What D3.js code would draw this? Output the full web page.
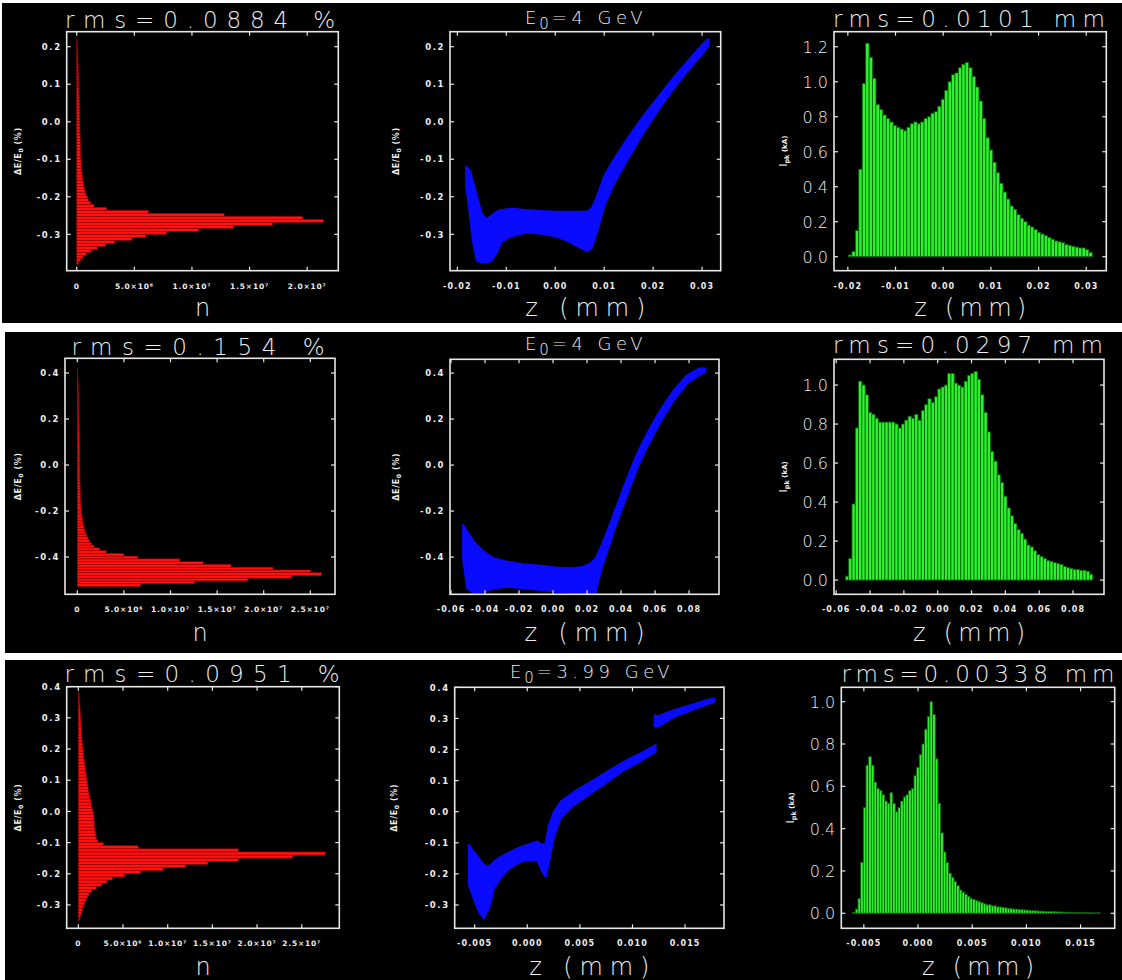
<!DOCTYPE html>
<html>
<head>
<meta charset="utf-8">
<script src="https://cdn.jsdelivr.net/npm/d3@7/dist/d3.min.js"></script>
<style>
  body { margin: 0; background: #fff; }
  svg { display: block; }
  text { font-family: "DejaVu Sans", sans-serif; fill: #ededed; }
</style>
</head>
<body>
<svg id="fig" width="1122" height="980"></svg>
<script>
// ---------- data ----------
// energy spread histograms (left column): bin start, bin width (%), counts in units of 1e6
const spread1Start = -0.376, spread1Step = 0.008;
const spread1Counts = [0.15,0.35,0.55,0.85,1.25,1.8,2.5,3.3,4.8,6.0,
  7.8,10.6,13.6,17.0,21.4,19.6,12.8,6.2,2.6,1.5,
  1.2,1.0,0.9,0.8,0.72,0.66,0.6,0.56,0.52,0.49,
  0.46,0.44,0.42,0.4,0.38,0.36,0.35,0.34,0.33,0.32,
  0.31,0.30,0.29,0.28,0.27,0.27,0.26,0.25,0.24,0.24,
  0.23,0.22,0.22,0.21,0.20,0.20,0.19,0.18,0.18,0.17,
  0.16,0.16,0.15,0.14,0.14,0.13,0.12,0.11,0.10,0.09,
  0.08,0.07,0.06,0.05,0.04];

const spread2Start = -0.522, spread2Step = 0.012;
const spread2Counts = [6.8,12.6,18.3,23.0,26.2,25.0,21.0,16.5,13.5,11.0,
  6.5,5.0,3.1,2.4,1.8,1.5,1.3,1.15,1.0,0.9,
  0.8,0.72,0.65,0.6,0.55,0.5,0.47,0.44,0.41,0.39,
  0.37,0.35,0.34,0.33,0.32,0.31,0.30,0.29,0.28,0.28,
  0.27,0.27,0.26,0.26,0.25,0.25,0.24,0.24,0.23,0.23,
  0.22,0.22,0.21,0.21,0.2,0.2,0.19,0.19,0.18,0.18,
  0.17,0.17,0.16,0.16,0.15,0.15,0.14,0.14,0.13,0.12,
  0.12,0.11,0.10,0.09,0.08,0.07,0.06,0.05,0.04];

const spread3Start = -0.345, spread3Step = 0.01;
const spread3Counts = [0.15,0.25,0.35,0.45,0.55,0.7,0.85,1.0,1.2,1.5,
  2.0,2.6,3.2,3.8,5.2,7.0,9.5,12.0,14.5,17.9,
  24.0,27.6,17.9,6.7,2.8,2.2,2.0,1.95,1.9,1.85,
  1.8,1.8,1.75,1.75,1.7,1.6,1.5,1.45,1.4,1.3,
  1.2,1.15,1.1,1.05,1.0,0.95,0.9,0.85,0.8,0.75,
  0.7,0.65,0.6,0.58,0.55,0.5,0.45,0.42,0.4,0.37,
  0.35,0.33,0.31,0.3,0.28,0.25,0.22,0.2,0.18,0.15,
  0.12,0.1,0.08];

// longitudinal phase space bands (middle column): z (mm), upper and lower dE/E0 (%)
const phase1Z  = [-0.0182,-0.0175,-0.0168,-0.0160,-0.0150,-0.0140,-0.0130,-0.0120,-0.0110,-0.0090,-0.0060,-0.0030,0.0000,0.0030,0.0050,0.0065,0.0075,0.0085,0.0100,0.0120,0.0150,0.0180,0.0210,0.0240,0.0270,0.0300,0.0312];
const phase1Hi = [-0.12,-0.13,-0.16,-0.20,-0.245,-0.26,-0.25,-0.24,-0.235,-0.232,-0.235,-0.238,-0.24,-0.24,-0.24,-0.24,-0.23,-0.20,-0.145,-0.10,-0.04,0.015,0.065,0.115,0.16,0.205,0.22];
const phase1Lo = [-0.17,-0.24,-0.32,-0.37,-0.375,-0.375,-0.37,-0.35,-0.32,-0.305,-0.295,-0.298,-0.305,-0.32,-0.335,-0.345,-0.335,-0.295,-0.225,-0.165,-0.095,-0.03,0.03,0.085,0.135,0.18,0.20];

const phase2Z  = [-0.0529,-0.0505,-0.0466,-0.0407,-0.0348,-0.027,-0.0172,-0.0074,0.0024,0.0122,0.0181,0.0221,0.025,0.0279,0.0318,0.0377,0.0436,0.0495,0.0554,0.0632,0.0711,0.0789,0.0858,0.0897];
const phase2Hi = [-0.261,-0.29,-0.333,-0.377,-0.406,-0.42,-0.432,-0.438,-0.446,-0.449,-0.442,-0.428,-0.406,-0.362,-0.29,-0.174,-0.058,0.051,0.138,0.239,0.326,0.391,0.42,0.42];
const phase2Lo = [-0.406,-0.536,-0.555,-0.551,-0.536,-0.529,-0.536,-0.543,-0.551,-0.555,-0.555,-0.555,-0.555,-0.464,-0.377,-0.246,-0.13,-0.014,0.08,0.188,0.283,0.355,0.391,0.406];

const phase3Z  = [-0.00555,-0.00508,-0.0046,-0.00413,-0.00365,-0.00317,-0.00254,-0.0019,-0.00095,0.0,0.00095,0.00143,0.00175,0.00206,0.00254,0.00317,0.00444,0.00603,0.00762,0.0092,0.0108,0.0122];
const phase3Hi = [-0.107,-0.129,-0.15,-0.171,-0.177,-0.161,-0.145,-0.134,-0.118,-0.107,-0.096,-0.107,-0.102,-0.043,0.0,0.032,0.064,0.096,0.129,0.161,0.188,0.214];
const phase3Lo = [-0.236,-0.279,-0.322,-0.343,-0.311,-0.247,-0.214,-0.188,-0.166,-0.155,-0.155,-0.193,-0.209,-0.161,-0.08,-0.021,0.021,0.059,0.096,0.134,0.163,0.193];
// head of the bunch, after the jump
const phase3bZ  = [0.0121,0.0124,0.0140,0.0156,0.0171,0.0178];
const phase3bHi = [0.31,0.306,0.327,0.343,0.359,0.364];
const phase3bLo = [0.275,0.273,0.306,0.327,0.345,0.354];

// current profiles (right column): bin start, bin width (mm), current (kA)
const current1Start = -0.0195, current1Step = 0.00072;
const current1 = [0.01,0.03,0.15,0.50,0.99,1.22,1.14,1.02,0.87,0.84,
  0.81,0.79,0.77,0.75,0.74,0.73,0.72,0.74,0.76,0.77,
  0.76,0.77,0.79,0.80,0.82,0.83,0.86,0.90,0.95,1.00,
  1.04,1.05,1.08,1.10,1.11,1.08,1.03,0.97,0.89,0.79,
  0.68,0.61,0.54,0.48,0.42,0.37,0.33,0.29,0.27,0.24,
  0.22,0.20,0.18,0.17,0.155,0.14,0.13,0.12,0.11,0.10,
  0.09,0.085,0.08,0.07,0.065,0.06,0.055,0.05,0.05,0.04,0.025];

const current2Start = -0.0536, current2Step = 0.00195;
const current2 = [0.02,0.11,0.39,0.78,1.02,1.0,0.95,0.86,0.85,0.83,
  0.81,0.81,0.81,0.81,0.81,0.80,0.78,0.80,0.82,0.84,
  0.83,0.85,0.82,0.87,0.90,0.93,0.91,0.94,0.98,0.99,
  1.00,1.06,1.06,1.01,1.00,0.99,1.02,1.05,1.06,1.07,
  1.03,0.95,0.86,0.76,0.66,0.61,0.54,0.50,0.43,0.37,
  0.33,0.29,0.26,0.24,0.21,0.18,0.17,0.15,0.13,0.12,
  0.11,0.10,0.095,0.09,0.085,0.08,0.07,0.065,0.06,0.055,
  0.055,0.05,0.05,0.045,0.03];

const current3Start = -0.00591, current3Step = 0.000246;
const current3 = [0.005,0.02,0.07,0.24,0.5,0.7,0.74,0.70,0.62,0.59,
  0.58,0.56,0.53,0.52,0.57,0.52,0.48,0.50,0.53,0.55,
  0.56,0.58,0.59,0.65,0.69,0.75,0.80,0.87,0.93,1.00,
  0.94,0.73,0.52,0.38,0.29,0.24,0.19,0.17,0.15,0.13,
  0.11,0.10,0.09,0.08,0.07,0.065,0.06,0.055,0.05,0.045,
  0.04,0.04,0.035,0.035,0.03,0.03,0.028,0.026,0.024,0.022,
  0.02,0.02,0.018,0.017,0.016,0.015,0.014,0.013,0.012,0.011,
  0.01,0.01,0.009,0.008,0.008,0.007,0.007,0.006,0.006,0.005,
  0.005,0.005,0.004,0.004,0.004,0.003,0.003,0.003,0.003,0.002,
  0.002,0.002,0.002];

// titles
const spreadTitles  = ["rms=0.0884  %", "rms=0.154  %", "rms=0.0951  %"];
const energyValues  = ["4", "4", "3.99"];
const lengthTitles  = ["rms=0.0101  mm", "rms=0.0297  mm", "rms=0.00338  mm"];

// tick values and labels
const spreadTicks1 = [-0.3,-0.2,-0.1,0.0,0.1,0.2];
const spreadLabels1 = ["-0.3","-0.2","-0.1","0.0","0.1","0.2"];
const spreadTicks2 = [-0.4,-0.2,0.0,0.2,0.4];
const spreadLabels2 = ["-0.4","-0.2","0.0","0.2","0.4"];
const spreadTicks3 = [-0.3,-0.2,-0.1,0.0,0.1,0.2,0.3,0.4];
const spreadLabels3 = ["-0.3","-0.2","-0.1","0.0","0.1","0.2","0.3","0.4"];
const countTicks1 = [0,5,10,15,20];
const countLabels1 = ["0","5.0\u00d710\u2076","1.0\u00d710\u2077","1.5\u00d710\u2077","2.0\u00d710\u2077"];
const countTicks2 = [0,5,10,15,20,25];
const countLabels2 = ["0","5.0\u00d710\u2076","1.0\u00d710\u2077","1.5\u00d710\u2077","2.0\u00d710\u2077","2.5\u00d710\u2077"];
const zTicks1 = [-0.02,-0.01,0.0,0.01,0.02,0.03];
const zLabels1 = ["-0.02","-0.01","0.00","0.01","0.02","0.03"];
const zTicks2 = [-0.06,-0.04,-0.02,0.0,0.02,0.04,0.06,0.08];
const zLabels2 = ["-0.06","-0.04","-0.02","0.00","0.02","0.04","0.06","0.08"];
const zTicks3 = [-0.005,0.0,0.005,0.010,0.015];
const zLabels3 = ["-0.005","0.000","0.005","0.010","0.015"];
const currentTicks1 = [0.0,0.2,0.4,0.6,0.8,1.0,1.2];
const currentLabels1 = ["0.0","0.2","0.4","0.6","0.8","1.0","1.2"];
const currentTicks2 = [0.0,0.2,0.4,0.6,0.8,1.0];
const currentLabels2 = ["0.0","0.2","0.4","0.6","0.8","1.0"];

// ---------- layout ----------
const svg = d3.select("#fig");
svg.append("rect").attr("width", 1122).attr("height", 980).attr("fill", "#fff");

const rowBands = [[2, 3, 1122, 323], [5, 332, 1122, 653], [5, 660, 1122, 980]];
rowBands.forEach(r => svg.append("rect")
  .attr("x", r[0]).attr("y", r[1]).attr("width", r[2] - r[0]).attr("height", r[3] - r[1])
  .attr("fill", "#000"));

const zip = (z, hi, lo) => z.map((d, i) => ({ z: d, hi: hi[i], lo: lo[i] }));

const panels = [
  // row 1
  { kind: "spread", box: [66.7, 338.3, 31.7, 270.7], xDomain: [-0.87, 22.7], yDomain: [-0.397, 0.24],
    start: spread1Start, step: spread1Step, values: spread1Counts,
    xTicks: countTicks1, xLabels: countLabels1, yTicks: spreadTicks1, yLabels: spreadLabels1,
    title: spreadTitles[0], titleX: 200, titleY: 28, titleLen: 270,
    xTitle: "n", xTitleY: 316, yTitleX: 18 },
  { kind: "phase", box: [450, 720.7, 31.7, 270.7], xDomain: [-0.0215, 0.0338], yDomain: [-0.397, 0.24],
    bands: [zip(phase1Z, phase1Hi, phase1Lo)],
    xTicks: zTicks1, xLabels: zLabels1, yTicks: spreadTicks1, yLabels: spreadLabels1,
    energy: energyValues[0], titleX: 586, titleY: 23.5,
    xTitle: "z  (mm)", xTitleY: 316, xTitleLen: 120, yTitleX: 396 },
  { kind: "current", box: [834, 1106.3, 31.7, 270.7], xDomain: [-0.0229, 0.0342], yDomain: [-0.08, 1.286],
    start: current1Start, step: current1Step, values: current1,
    xTicks: zTicks1, xLabels: zLabels1, yTicks: currentTicks1, yLabels: currentLabels1,
    title: lengthTitles[0], titleX: 969, titleY: 27, titleLen: 272,
    xTitle: "z  (mm)", xTitleY: 316, xTitleLen: 112, yTitleX: 783 },
  // row 2
  { kind: "spread", box: [65, 335, 358.3, 594.3], xDomain: [-1.32, 27.65], yDomain: [-0.562, 0.464],
    start: spread2Start, step: spread2Step, values: spread2Counts,
    xTicks: countTicks2, xLabels: countLabels2, yTicks: spreadTicks2, yLabels: spreadLabels2,
    title: spreadTitles[1], titleX: 198, titleY: 355, titleLen: 253,
    xTitle: "n", xTitleY: 641, yTitleX: 18 },
  { kind: "phase", box: [450, 719, 359.3, 594.3], xDomain: [-0.0606, 0.0976], yDomain: [-0.562, 0.46],
    bands: [zip(phase2Z, phase2Hi, phase2Lo)],
    xTicks: zTicks2, xLabels: zLabels2, yTicks: spreadTicks2, yLabels: spreadLabels2,
    energy: energyValues[1], titleX: 586, titleY: 350,
    xTitle: "z  (mm)", xTitleY: 641, xTitleLen: 120, yTitleX: 396 },
  { kind: "current", box: [834, 1104, 359.3, 594.3], xDomain: [-0.0613, 0.0983], yDomain: [-0.073, 1.132],
    start: current2Start, step: current2Step, values: current2,
    xTicks: zTicks2, xLabels: zLabels2, yTicks: currentTicks2, yLabels: currentLabels2,
    title: lengthTitles[1], titleX: 968, titleY: 353, titleLen: 270,
    xTitle: "z  (mm)", xTitleY: 641, xTitleLen: 112, yTitleX: 783 },
  // row 3
  { kind: "spread", box: [66.7, 339.3, 686.7, 928.3], xDomain: [-1.3, 29.2], yDomain: [-0.375, 0.4],
    start: spread3Start, step: spread3Step, values: spread3Counts,
    xTicks: countTicks2, xLabels: countLabels2, yTicks: spreadTicks3, yLabels: spreadLabels3,
    title: spreadTitles[2], titleX: 202, titleY: 682, titleLen: 275,
    xTitle: "n", xTitleY: 975, yTitleX: 18 },
  { kind: "phase", box: [454.7, 724, 687.3, 928.3], xDomain: [-0.0069, 0.0187], yDomain: [-0.375, 0.4],
    bands: [zip(phase3Z, phase3Hi, phase3Lo), zip(phase3bZ, phase3bHi, phase3bLo)],
    xTicks: zTicks3, xLabels: zLabels3, yTicks: spreadTicks3, yLabels: spreadLabels3,
    energy: energyValues[2], titleX: 592, titleY: 678,
    xTitle: "z  (mm)", xTitleY: 975, xTitleLen: 120, yTitleX: 394 },
  { kind: "current", box: [841.3, 1114.7, 687.3, 928.3], xDomain: [-0.00708, 0.01815], yDomain: [-0.071, 1.068],
    start: current3Start, step: current3Step, values: current3,
    xTicks: zTicks3, xLabels: zLabels3, yTicks: currentTicks2, yLabels: currentLabels2,
    title: lengthTitles[2], titleX: 978, titleY: 682, titleLen: 273,
    xTitle: "z  (mm)", xTitleY: 975, xTitleLen: 112, yTitleX: 790 }
];

const defs = svg.append("defs");

panels.forEach((p, k) => {
  const [x0, x1, y0, y1] = p.box;
  const x = d3.scaleLinear().domain(p.xDomain).range([x0, x1]);
  const y = d3.scaleLinear().domain(p.yDomain).range([y1, y0]);
  const g = svg.append("g");

  defs.append("clipPath").attr("id", "clip" + k)
    .append("rect").attr("x", x0).attr("y", y0).attr("width", x1 - x0).attr("height", y1 - y0);
  const plot = g.append("g").attr("clip-path", `url(#clip${k})`);

  if (p.kind === "spread") {
    // horizontal histogram: bin centre = start + i*step
    plot.selectAll("rect").data(p.values).join("rect")
      .attr("x", x(0))
      .attr("width", d => x(d) - x(0))
      .attr("y", (d, i) => y(p.start + i * p.step + p.step / 2))
      .attr("height", (d, i) => y(p.start + i * p.step - p.step / 2) - y(p.start + i * p.step + p.step / 2))
      .attr("fill", "#ff1111")
      .attr("stroke", "#8a0000")
      .attr("stroke-width", 0.55);
  } else if (p.kind === "phase") {
    const area = d3.area().x(d => x(d.z)).y0(d => y(d.lo)).y1(d => y(d.hi));
    p.bands.forEach(b => plot.append("path")
      .attr("d", area(b))
      .attr("fill", "#0a0aff")
      .attr("stroke", "#0a0aff")
      .attr("stroke-width", 2)
      .attr("stroke-linejoin", "round"));
  } else {
    plot.selectAll("rect").data(p.values).join("rect")
      .attr("x", (d, i) => x(p.start + i * p.step - p.step / 2))
      .attr("width", x(p.start + p.step) - x(p.start))
      .attr("y", d => y(d))
      .attr("height", d => y(0) - y(d))
      .attr("fill", "#2cf22c")
      .attr("stroke", "#0b600b")
      .attr("stroke-width", 0.8);
  }

  // frame
  g.append("rect").attr("x", x0).attr("y", y0).attr("width", x1 - x0).attr("height", y1 - y0)
    .attr("fill", "none").attr("stroke", "#e8e8e8").attr("stroke-width", 1.6);

  // inward ticks on all four sides
  const tk = g.append("g").attr("stroke", "#e8e8e8").attr("stroke-width", 1.2);
  p.xTicks.forEach(t => {
    tk.append("line").attr("x1", x(t)).attr("x2", x(t)).attr("y1", y1).attr("y2", y1 - 4);
    tk.append("line").attr("x1", x(t)).attr("x2", x(t)).attr("y1", y0).attr("y2", y0 + 4);
  });
  p.yTicks.forEach(t => {
    tk.append("line").attr("x1", x0).attr("x2", x0 + 4).attr("y1", y(t)).attr("y2", y(t));
    tk.append("line").attr("x1", x1).attr("x2", x1 - 4).attr("y1", y(t)).attr("y2", y(t));
  });

  // x tick labels
  const smallX = p.kind === "spread";
  g.selectAll(".xl").data(p.xTicks).join("text")
    .attr("x", d => x(d)).attr("y", y1 + 18)
    .attr("text-anchor", "middle")
    .attr("font-size", smallX ? 7.5 : 8).attr("font-weight", "bold")
    .attr("letter-spacing", smallX ? 0.8 : 1.1)
    .text((d, i) => p.xLabels[i]);

  // y tick labels
  if (p.kind === "current") {
    g.selectAll(".yl").data(p.yTicks).join("text")
      .attr("x", x0 - 6).attr("y", d => y(d) + 6)
      .attr("text-anchor", "end")
      .attr("font-size", 16).attr("font-weight", 200)
      .text((d, i) => p.yLabels[i]);
  } else {
    g.selectAll(".yl").data(p.yTicks).join("text")
      .attr("x", x0 - 5).attr("y", d => y(d) + 3.2)
      .attr("text-anchor", "end")
      .attr("font-size", 8.5).attr("font-weight", "bold").attr("letter-spacing", 1.6)
      .text((d, i) => p.yLabels[i]);
  }

  // title
  if (p.kind === "phase") {
    const t = g.append("text").attr("x", p.titleX).attr("y", p.titleY)
      .attr("text-anchor", "middle")
      .attr("font-size", 18).attr("font-weight", 200);
    t.append("tspan").attr("letter-spacing", 3).text("E");
    t.append("tspan").attr("font-size", 15).attr("dy", 5).attr("letter-spacing", 3).text("0");
    t.append("tspan").attr("dy", -5).attr("letter-spacing", 4.5).text("=" + p.energy + "  GeV");
  } else {
    g.append("text").attr("x", p.titleX).attr("y", p.titleY)
      .attr("text-anchor", "middle")
      .attr("font-size", 23).attr("font-weight", 200)
      .attr("textLength", p.titleLen).attr("lengthAdjust", "spacing")
      .text(p.title);
  }

  // x axis title
  const xt = g.append("text").attr("x", (x0 + x1) / 2).attr("y", p.xTitleY)
    .attr("text-anchor", "middle").attr("font-size", 24).attr("font-weight", 200)
    .text(p.xTitle);
  if (p.xTitleLen) xt.attr("textLength", p.xTitleLen).attr("lengthAdjust", "spacing");

  // y axis title
  const cy = (y0 + y1) / 2;
  if (p.kind === "current") {
    const yt = g.append("text")
      .attr("transform", `translate(${p.yTitleX + 4},${cy}) rotate(-90)`)
      .attr("text-anchor", "middle");
    yt.append("tspan").attr("font-size", 11).text("I");
    yt.append("tspan").attr("font-size", 6.5).attr("font-weight", "bold").attr("dy", 2).text("pk");
    yt.append("tspan").attr("font-size", 7).attr("font-weight", "bold").attr("dy", -2).text(" (kA)");
  } else {
    const yt = g.append("text")
      .attr("transform", `translate(${p.yTitleX + 3},${cy}) rotate(-90)`)
      .attr("text-anchor", "middle")
      .attr("font-size", 8).attr("font-weight", "bold").attr("letter-spacing", 0.6);
    yt.append("tspan").text("\u0394E/E");
    yt.append("tspan").attr("font-size", 6).attr("dy", 2).text("0");
    yt.append("tspan").attr("dy", -2).text(" (%)");
  }
});
</script>
</body>
</html>
